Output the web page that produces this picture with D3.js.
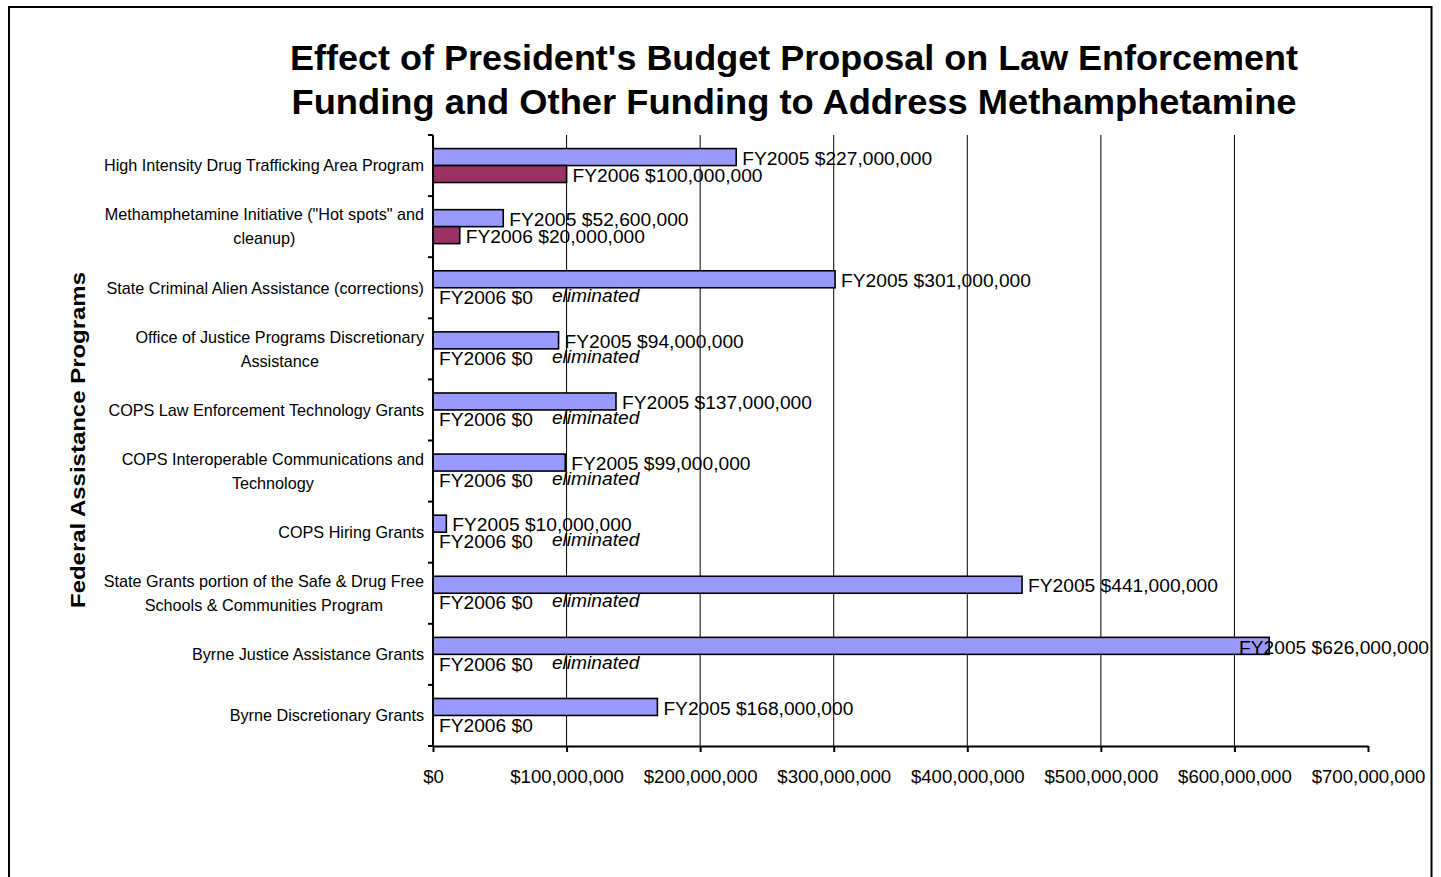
<!DOCTYPE html>
<html>
<head>
<meta charset="utf-8">
<script src="https://cdn.jsdelivr.net/npm/d3@7"></script>
<style>
  body { margin: 0; background: #fff; }
  text { font-family: "Liberation Sans", Arial, sans-serif; fill: #000; }
</style>
</head>
<body>
<div id="chart"></div>
<script>
// data, top to bottom as in the picture
var categories = [
  "High Intensity Drug Trafficking Area Program",
  "Methamphetamine Initiative (\"Hot spots\" and cleanup)",
  "State Criminal Alien Assistance (corrections)",
  "Office of Justice Programs Discretionary Assistance",
  "COPS Law Enforcement Technology Grants",
  "COPS Interoperable Communications and Technology",
  "COPS Hiring Grants",
  "State Grants portion of the Safe & Drug Free Schools & Communities Program",
  "Byrne Justice Assistance Grants",
  "Byrne Discretionary Grants"
];
var seriesNames = ["FY2005", "FY2006"];
var fy2005 = [227000000, 52600000, 301000000, 94000000, 137000000, 99000000, 10000000, 441000000, 626000000, 168000000];
var fy2006 = [100000000, 20000000, 0, 0, 0, 0, 0, 0, 0, 0];
var eliminated = [false, false, true, true, true, true, true, true, true, false];
var xTicks = [0, 100000000, 200000000, 300000000, 400000000, 500000000, 600000000, 700000000];
var titleLines = [
  "Effect of President's Budget Proposal on Law Enforcement",
  "Funding and Other Funding to Address Methamphetamine"
];

var W = 1441, H = 877;
var margin = {top: 135, right: 73, bottom: 131, left: 433},
    width = W - margin.left - margin.right,
    height = H - margin.top - margin.bottom;
var frameRight = 1431;

var svg = d3.select("#chart").append("svg")
    .attr("width", W)
    .attr("height", H);

// outer frame
svg.append("rect")
    .attr("x", 9).attr("y", 7)
    .attr("width", frameRight + 0.5 - 9).attr("height", 900)
    .attr("fill", "none").attr("stroke", "#000").attr("stroke-width", 2);

// title
svg.append("g").selectAll("text")
  .data(titleLines)
  .enter().append("text")
    .attr("x", 794)
    .attr("y", function(d, i) { return 69.5 + i * 44; })
    .attr("text-anchor", "middle")
    .attr("textLength", function(d, i) { return i == 0 ? 1008 : 1005; })
    .attr("lengthAdjust", "spacingAndGlyphs")
    .style("font-size", "35px")
    .style("font-weight", "bold")
    .text(function(d) { return d; });

var g = svg.append("g")
    .attr("transform", "translate(" + margin.left + "," + margin.top + ")");

// scales
var x = d3.scaleLinear()
    .domain([0, 700000000])
    .range([0, width]);
var y = d3.scaleBand()
    .domain(categories)
    .range([0, height]);
var ySub = d3.scaleBand()
    .domain(seriesNames)
    .range([0, y.bandwidth()])
    .paddingOuter(0.8);

var colors = {FY2005: "#9999FF", FY2006: "#993366"};
var money = d3.format("$,");

var rows = categories.map(function(c, i) {
  return {cat: c, vals: [
    {s: "FY2005", v: fy2005[i]},
    {s: "FY2006", v: fy2006[i]}
  ], elim: eliminated[i]};
});

// gridlines
g.append("g").selectAll("line")
  .data(xTicks.filter(function(d) { return d > 0 && d < 700000000; }))
  .enter().append("line")
    .attr("x1", function(d) { return x(d); })
    .attr("x2", function(d) { return x(d); })
    .attr("y1", 0).attr("y2", height)
    .attr("stroke", "#000").attr("stroke-width", 1);

// bars
var grp = g.append("g").selectAll("g")
  .data(rows)
  .enter().append("g")
    .attr("transform", function(d) { return "translate(0," + y(d.cat) + ")"; });

grp.selectAll("rect")
  .data(function(d) { return d.vals; })
  .enter().append("rect")
    .attr("x", 0)
    .attr("y", function(d) { return ySub(d.s); })
    .attr("width", function(d) { return x(d.v); })
    .attr("height", ySub.bandwidth())
    .attr("fill", function(d) { return colors[d.s]; })
    .attr("stroke", "#000")
    .attr("stroke-width", function(d) { return d.v > 0 ? 1.6 : 0; });

// value labels (pulled back inside the frame when they would run past it)
grp.selectAll("text.val")
  .data(function(d) { return d.vals; })
  .enter().append("text")
    .attr("class", "val")
    .attr("y", function(d) { return ySub(d.s) + ySub.bandwidth() / 2 + 1; })
    .attr("dy", "0.35em")
    .style("font-size", "19.2px")
    .text(function(d) { return d.s + " " + money(d.v); })
    .attr("x", function(d) {
      var w = this.getComputedTextLength();
      var limit = frameRight - 2 - margin.left - w;
      return Math.min(x(d.v) + 6, limit);
    });

// "eliminated" notes
grp.filter(function(d) { return d.elim; })
  .append("text")
    .attr("x", x(89000000))
    .attr("y", ySub("FY2006") + ySub.bandwidth() / 2 - 1)
    .attr("dy", "0.35em")
    .style("font-size", "19.2px")
    .style("font-style", "italic")
    .text("eliminated");

// x axis
var xAxis = g.append("g")
    .attr("transform", "translate(0," + height + ")")
    .call(d3.axisBottom(x)
      .tickValues(xTicks)
      .tickFormat(money)
      .tickSize(6)
      .tickPadding(18)
      .tickSizeOuter(0));
xAxis.select(".domain").attr("stroke", "#000").attr("stroke-width", 2);
xAxis.selectAll(".tick line").attr("stroke", "#000").attr("stroke-width", 2);
xAxis.selectAll(".tick text")
    .style("font-family", "\"Liberation Sans\", Arial, sans-serif")
    .style("font-size", "18.6px")
    .attr("fill", "#000");

// y axis line and category ticks
g.append("line")
    .attr("x1", 0).attr("x2", 0)
    .attr("y1", 0).attr("y2", height)
    .attr("stroke", "#000").attr("stroke-width", 2);
var bounds = categories.map(function(c) { return y(c); }).concat([height]);
g.append("g").selectAll("line")
  .data(bounds)
  .enter().append("line")
    .attr("x1", -5).attr("x2", 0)
    .attr("y1", function(d) { return d; })
    .attr("y2", function(d) { return d; })
    .attr("stroke", "#000").attr("stroke-width", 2);

// category labels, wrapped like Excel: lines centred, block right-aligned
var maxW = 345, lineH = 24, catFont = "16.2px";
var labels = g.append("g").selectAll("g")
  .data(categories)
  .enter().append("g");

labels.each(function(c) {
  var sel = d3.select(this);
  var words = c.split(" "), lines = [], cur = [];
  var probe = sel.append("text").style("font-size", catFont);
  words.forEach(function(w) {
    var t = cur.concat([w]).join(" ");
    probe.text(t);
    if (probe.node().getComputedTextLength() > maxW && cur.length) {
      lines.push(cur.join(" "));
      cur = [w];
    } else {
      cur.push(w);
    }
  });
  lines.push(cur.join(" "));
  var widest = 0;
  lines.forEach(function(l) {
    probe.text(l);
    widest = Math.max(widest, probe.node().getComputedTextLength());
  });
  probe.remove();
  var cy = y(c) + y.bandwidth() / 2;
  var cx = -9 - widest / 2;
  sel.selectAll("text")
    .data(lines)
    .enter().append("text")
      .attr("x", cx)
      .attr("y", function(d, i) { return cy + (i - (lines.length - 1) / 2) * lineH; })
      .attr("dy", "0.36em")
      .attr("text-anchor", "middle")
      .style("font-size", catFont)
      .text(function(d) { return d; });
});

// y axis title
svg.append("text")
    .attr("transform", "translate(85,440) rotate(-90)")
    .attr("text-anchor", "middle")
    .attr("textLength", 336)
    .attr("lengthAdjust", "spacingAndGlyphs")
    .style("font-size", "20px")
    .style("font-weight", "bold")
    .text("Federal Assistance Programs");
</script>
</body>
</html>
